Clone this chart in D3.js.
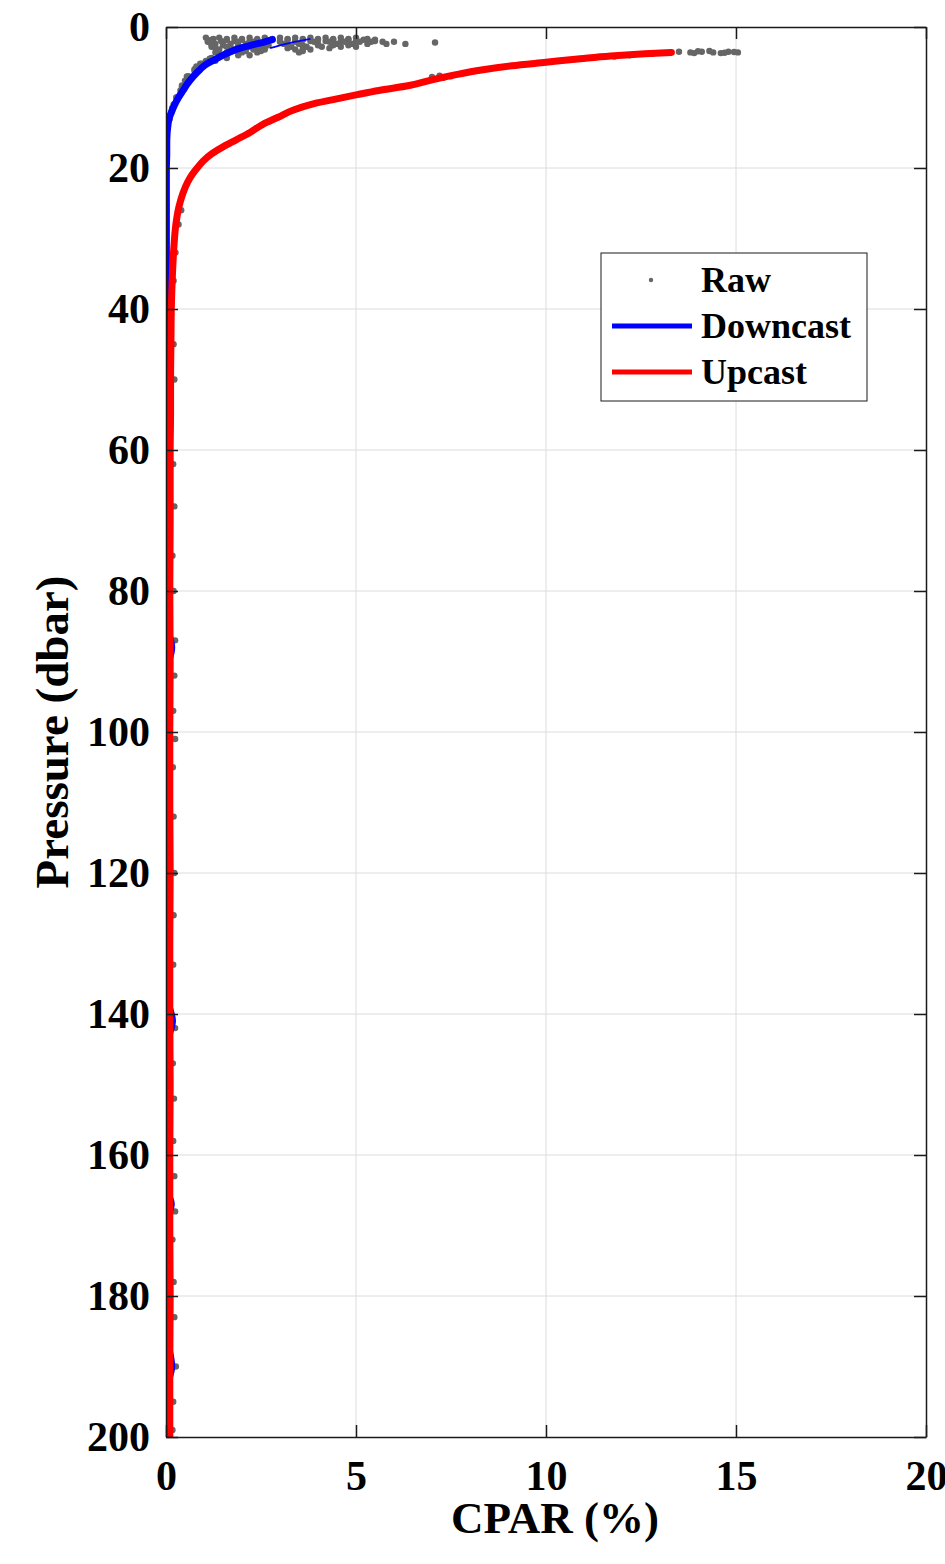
<!DOCTYPE html>
<html>
<head>
<meta charset="utf-8">
<script src="https://cdn.jsdelivr.net/npm/d3@7"></script>
<style>
  html, body { margin: 0; padding: 0; background: #fff; }
  svg { display: block; }
  text { font-family: "Liberation Serif", "Times New Roman", serif; font-weight: bold; fill: #000; }
</style>
</head>
<body>
<svg id="chart" width="945" height="1564"></svg>
<script>
// ---------------- DATA ----------------
const xTicks = [0, 5, 10, 15, 20];
const yTicks = [0, 20, 40, 60, 80, 100, 120, 140, 160, 180, 200];
const xLabel = "CPAR (%)";
const yLabel = "Pressure (dbar)";
const legendLabels = ["Raw", "Downcast", "Upcast"];

// Downcast (blue) profile: pressure (dbar) and CPAR (%)
const downP = [1.8, 2.1, 2.5, 3.0, 3.5, 4.0, 4.6, 5.2, 6.0, 7.0, 8.0, 9.0, 10.0, 11.0, 12.0, 13.0, 14.0, 15.0, 16.5, 18, 20, 25, 30, 40, 50, 60, 70, 80, 85, 88, 91, 100, 110, 120, 130, 138, 141, 144, 150, 160, 165, 167, 169, 175, 180, 186, 190, 193, 200];
const downX = [2.8, 2.6, 2.3, 1.95, 1.7, 1.5, 1.3, 1.08, 0.9, 0.72, 0.57, 0.45, 0.33, 0.23, 0.15, 0.08, 0.05, 0.03, 0.02, 0.02, 0.01, 0.01, 0.01, 0.01, 0.02, 0.01, 0.01, 0.02, 0.04, 0.15, 0.04, 0.01, 0.01, 0.02, 0.01, 0.05, 0.17, 0.04, 0.01, 0.02, 0.04, 0.14, 0.04, 0.01, 0.02, 0.04, 0.15, 0.03, 0.01];
// thin downcast trace near the surface
const downTailP = [3.0, 2.6, 2.2, 1.9, 1.7];
const downTailX = [2.74, 3.0, 3.3, 3.6, 3.8];

// Upcast (red) profile
const upP = [3.6, 3.8, 4.1, 4.5, 5.0, 5.5, 6.1, 6.8, 7.5, 8.3, 9.0, 9.6, 10.3, 11.0, 11.8, 12.8, 13.8, 15.0, 16.0, 17.0, 18.0, 19.0, 20.0, 21.0, 22.0, 23.5, 25.5, 28, 31, 35, 40, 45, 50, 55, 60, 70, 80, 90, 100, 110, 120, 130, 140, 150, 160, 170, 180, 190, 200];
const upX = [13.3, 12.6, 11.7, 10.9, 10.0, 9.1, 8.3, 7.6, 7.0, 6.4, 5.6, 5.03, 4.4, 3.8, 3.34, 2.95, 2.55, 2.2, 1.85, 1.5, 1.2, 0.98, 0.82, 0.68, 0.57, 0.45, 0.34, 0.26, 0.21, 0.17, 0.14, 0.13, 0.12, 0.12, 0.11, 0.11, 0.1, 0.11, 0.1, 0.1, 0.11, 0.1, 0.1, 0.11, 0.1, 0.1, 0.11, 0.1, 0.1];

// Raw samples
const rawP = [
  1.5,1.5,1.5,1.5,1.5,1.5,1.5,1.5,1.5,1.5,1.5,
  1.7,1.7,1.7,1.7,1.7,1.7,1.7,1.7,1.7,1.7,1.7,
  1.8,1.8,1.8,1.8,1.8,1.8,1.8,1.8,1.8,1.8,1.8,1.8,
  2.0,2.0,2.0,2.0,2.0,2.0,2.0,2.0,2.0,2.0,2.0,2.0,
  2.1,2.1,2.1,2.1,2.1,2.1,2.1,2.1,2.1,2.1,2.1,2.1,2.1,
  2.4,2.4,2.4,2.4,2.4,2.4,2.4,2.4,2.4,2.4,2.4,2.4,
  2.6,2.6,2.6,2.6,2.6,2.6,2.6,2.6,2.6,2.6,
  2.8,2.8,2.8,2.8,2.8,2.8,2.8,2.8,2.8,
  3.0,3.0,3.0,3.0,3.0,3.0,3.0,
  3.2,3.2,3.2,3.2,3.2,3.2,
  3.4,3.4,3.4,3.4,3.4,
  3.6,3.6,3.6,3.6,3.6,
  4.0,4.0,4.0, 4.4,4.4, 4.8,4.8, 5.2, 5.6,5.6, 6.2, 7.0,7.0, 7.6, 8.3, 9.0, 10.0, 11.0, 12.0, 13.0,
  4.5,5.2,6.0,7.0,8.5,10.0,11.5,13.0,
  2.2,
  3.5,3.6,3.5,3.6,3.7,3.5,3.6,3.7,3.4,3.55,3.65,3.45, 3.8,4.0,4.2, 7.1,7.2,7.0,6.9,
  26,28,32,36,
  45,50,62,68,75,80,87,92,97,101,105,112,120,126,133,142,147,152,158,163,168,172,178,183,190,195,199
];
const rawX = [
  1.05,1.4,1.8,2.2,2.6,3.0,3.4,3.8,4.2,4.6,5.0,
  1.25,1.6,2.0,2.4,2.8,3.2,3.6,4.0,4.4,4.8,5.3,
  1.2,1.6,2.0,2.4,2.8,3.2,3.6,4.0,4.4,4.8,5.2,5.5,
  1.1,1.45,1.8,2.2,2.6,3.0,3.4,3.8,4.2,4.6,5.0,5.5,
  1.1,1.5,1.9,2.3,3.0,3.4,3.9,4.3,4.7,5.1,5.4,5.7,6.0,
  1.3,1.7,2.1,2.6,3.1,3.5,4.0,4.5,4.9,5.3,5.8,6.3,
  1.2,1.5,1.9,2.3,2.7,3.2,3.6,4.0,4.4,4.8,
  1.2,1.6,2.2,2.5,3.3,3.7,4.1,4.6,5.0,
  1.3,1.7,2.1,2.4,3.2,3.6,4.3,
  1.4,1.8,2.3,2.6,3.4,3.8,
  1.35,1.7,2.1,2.5,3.6,
  1.3,1.6,2.0,2.4,3.5,
  1.4,1.9,2.2, 1.2,1.6, 1.05,1.3, 0.9, 0.95,0.8, 0.75, 0.6,0.55, 0.5, 0.42, 0.38, 0.28, 0.2, 0.14, 0.1,
  1.15,0.95,0.75,0.58,0.42,0.27,0.16,0.07,
  7.08,
  13.5,13.8,14.1,14.4,14.6,14.8,15.05,13.9,14.3,14.95,14.7,14.0, 12.8,12.2,11.8, 7.0,7.3,7.5,7.2,
  0.4,0.33,0.25,0.2,
  0.2,0.22,0.19,0.22,0.17,0.2,0.24,0.22,0.19,0.24,0.18,0.2,0.22,0.2,0.19,0.24,0.18,0.21,0.19,0.22,0.24,0.17,0.2,0.22,0.26,0.19,0.17
];

// ---------------- CHART ----------------
const svg = d3.select("#chart");
const L = 166, R = 926, T = 27, B = 1437;
const x = d3.scaleLinear().domain([0, 20]).range([L, R]);
const y = d3.scaleLinear().domain([0, 200]).range([T, B]);

const gridColor = "#dcdcdc";
const axisColor = "#1a1a1a";

// grid
svg.append("g").selectAll("line").data(xTicks.slice(1, -1)).join("line")
  .attr("x1", d => x(d)).attr("x2", d => x(d)).attr("y1", T).attr("y2", B)
  .attr("stroke", gridColor).attr("stroke-width", 1);
svg.append("g").selectAll("line").data(yTicks.slice(1, -1)).join("line")
  .attr("y1", d => y(d)).attr("y2", d => y(d)).attr("x1", L).attr("x2", R)
  .attr("stroke", gridColor).attr("stroke-width", 1);

// clip
svg.append("clipPath").attr("id", "plotclip").append("rect")
  .attr("x", L).attr("y", T).attr("width", R - L).attr("height", B - T);
const plot = svg.append("g").attr("clip-path", "url(#plotclip)");

// raw dots
plot.append("g").selectAll("circle").data(rawP.map((p, i) => [rawX[i], p])).join("circle")
  .attr("cx", d => x(d[0])).attr("cy", d => y(d[1])).attr("r", 3.2)
  .attr("fill", "#666666");

const line = d3.line().x(d => x(d[0])).y(d => y(d[1])).curve(d3.curveMonotoneY);

plot.append("path").datum(downP.map((p, i) => [downX[i], p]))
  .attr("d", line).attr("fill", "none").attr("stroke", "#0000ff")
  .attr("stroke-width", 7).attr("stroke-linejoin", "round").attr("stroke-linecap", "round");
plot.append("path").datum(downTailP.map((p, i) => [downTailX[i], p]))
  .attr("d", line).attr("fill", "none").attr("stroke", "#0000ff")
  .attr("stroke-width", 1.8).attr("stroke-linejoin", "round");

plot.append("path").datum(upP.map((p, i) => [upX[i], p]))
  .attr("d", line).attr("fill", "none").attr("stroke", "#ff0000")
  .attr("stroke-width", 7).attr("stroke-linejoin", "round").attr("stroke-linecap", "round");

// axes
const tickLen = 12;
const fontTick = 42;
function styleAxis(g) {
  g.select(".domain").attr("stroke", axisColor).attr("stroke-width", 1.5);
  g.selectAll(".tick line").attr("stroke", axisColor).attr("stroke-width", 1.5);
  g.selectAll(".tick text").attr("font-family", "Liberation Serif, Times New Roman, serif")
    .attr("font-weight", "bold").attr("font-size", fontTick).attr("fill", "#000");
}
svg.append("g").attr("transform", `translate(0,${B})`)
  .call(d3.axisBottom(x).tickValues(xTicks).tickFormat(d3.format("d")).tickSize(-tickLen).tickSizeOuter(0).tickPadding(23))
  .call(styleAxis);
svg.append("g").attr("transform", `translate(${L},0)`)
  .call(d3.axisLeft(y).tickValues(yTicks).tickFormat(d3.format("d")).tickSize(-tickLen).tickSizeOuter(0).tickPadding(16))
  .call(styleAxis);
svg.append("g").attr("transform", `translate(0,${T})`)
  .call(d3.axisTop(x).tickValues(xTicks).tickFormat("").tickSize(-tickLen).tickSizeOuter(0))
  .call(styleAxis);
svg.append("g").attr("transform", `translate(${R},0)`)
  .call(d3.axisRight(y).tickValues(yTicks).tickFormat("").tickSize(-tickLen).tickSizeOuter(0))
  .call(styleAxis);

// axis labels
svg.append("text").attr("x", 555).attr("y", 1533).attr("text-anchor", "middle")
  .attr("font-size", 45).text(xLabel);
svg.append("text").attr("transform", `translate(68,${(T + B) / 2}) rotate(-90)`)
  .attr("text-anchor", "middle").attr("font-size", 47).text(yLabel);

// legend
const lg = svg.append("g");
lg.append("rect").attr("x", 601).attr("y", 253).attr("width", 266).attr("height", 148)
  .attr("fill", "#fff").attr("stroke", axisColor).attr("stroke-width", 1);
const rowY = [280, 326, 372];
lg.append("circle").attr("cx", 651).attr("cy", rowY[0]).attr("r", 2.2).attr("fill", "#666666");
lg.append("line").attr("x1", 612).attr("x2", 692).attr("y1", rowY[1]).attr("y2", rowY[1])
  .attr("stroke", "#0000ff").attr("stroke-width", 5);
lg.append("line").attr("x1", 612).attr("x2", 692).attr("y1", rowY[2]).attr("y2", rowY[2])
  .attr("stroke", "#ff0000").attr("stroke-width", 5);
lg.selectAll("text.lab").data(legendLabels).join("text").attr("class", "lab")
  .attr("x", 701).attr("y", (d, i) => rowY[i] + 12).attr("font-size", 36).text(d => d);
</script>
</body>
</html>
